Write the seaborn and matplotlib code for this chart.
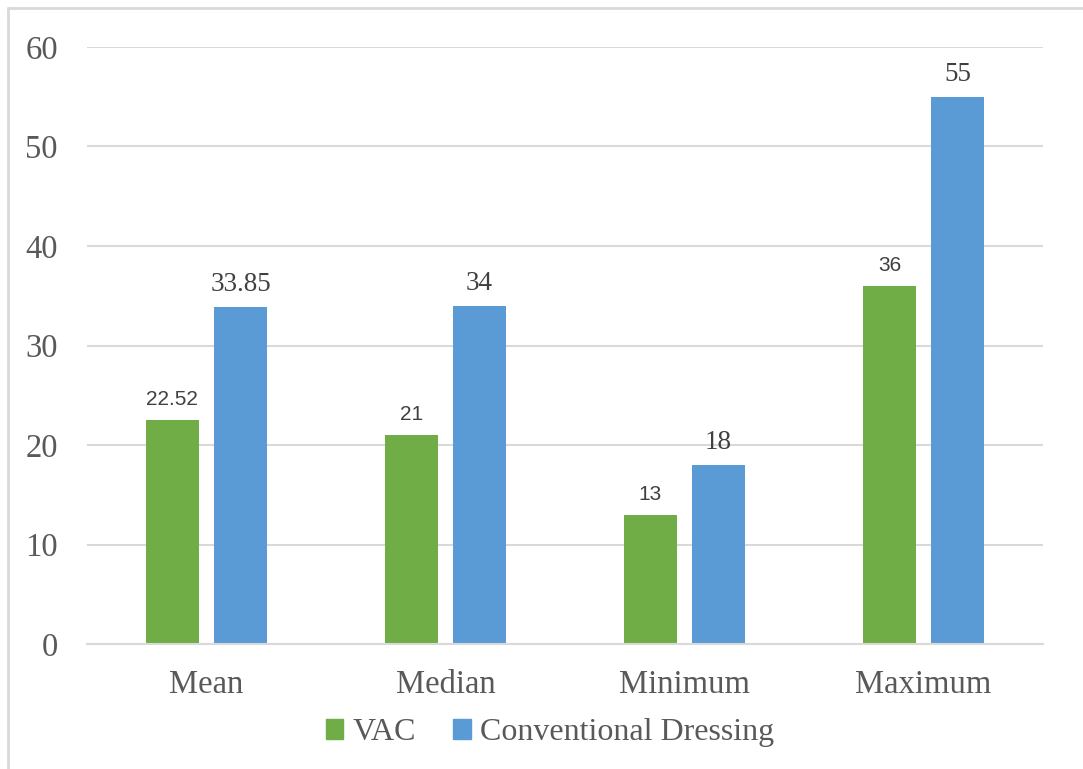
import matplotlib
matplotlib.use("Agg")
import matplotlib.pyplot as plt
import seaborn as sns
import pandas as pd
from matplotlib.patches import Rectangle
from matplotlib.lines import Line2D

categories = ["Mean", "Median", "Minimum", "Maximum"]
series_names = ["VAC", "Conventional Dressing"]
vac_values = [22.52, 21, 13, 36]
conv_values = [33.85, 34, 18, 55]
vac_labels = ["22.52", "21", "13", "36"]
conv_labels = ["33.85", "34", "18", "55"]
y_ticks = [0, 10, 20, 30, 40, 50, 60]

colors = {"VAC": "#70AD47", "Conventional Dressing": "#5B9BD5"}

df = pd.DataFrame({
    "Category": categories * 2,
    "Series": [series_names[0]] * 4 + [series_names[1]] * 4,
    "Value": vac_values + conv_values,
})

sns.set_theme(style="white")
plt.rcParams["font.family"] = ["Liberation Serif", "DejaVu Serif"]

fig = plt.figure(figsize=(10.83, 7.69), dpi=100)
ax = fig.add_axes([0.0803, 0.1625, 0.8827, 0.7764])

sns.barplot(data=df, x="Category", y="Value", hue="Series", order=categories,
            hue_order=series_names, palette=colors, width=0.57, gap=0.22,
            saturation=1, ax=ax, legend=False, edgecolor="none")

ax.set_xlim(-0.5, 3.5)
ax.set_ylim(0, 60)
ax.set_yticks(y_ticks)
ax.set_yticklabels([str(t) for t in y_ticks])
ax.yaxis.grid(True, color="#D9D9D9", linewidth=1.5)
ax.set_axisbelow(True)
for s in ["left", "right", "top"]:
    ax.spines[s].set_visible(False)
ax.spines["bottom"].set_color("#D9D9D9")
ax.spines["bottom"].set_linewidth(1.5)
ax.set_xlabel("")
ax.set_ylabel("")
ax.tick_params(axis="both", length=0, labelcolor="#595959", labelsize=23.5)
ax.tick_params(axis="x", pad=18)
ax.tick_params(axis="y", pad=21)

# data labels
containers = ax.containers
ax.bar_label(containers[0], labels=vac_labels, padding=8, fontsize=15,
             color="#404040", family=["Liberation Sans", "DejaVu Sans"])
ax.bar_label(containers[1], labels=conv_labels, padding=7, fontsize=19.5,
             color="#404040", family=["Liberation Serif", "DejaVu Serif"])

handles = [Rectangle((0, 0), 1, 1, color=colors[n]) for n in series_names]
fig.legend(handles, series_names, loc="center", bbox_to_anchor=(0.508, 0.047),
           ncol=2, frameon=False, fontsize=23, handlelength=0.55, handleheight=0.55,
           handletextpad=0.3, columnspacing=1.15, labelcolor="#595959")

# outer border (left and top visible)
fig.add_artist(Line2D([8 / 1083, 8 / 1083], [0, 1 - 8 / 769], transform=fig.transFigure,
                      color="#D9D9D9", linewidth=2))
fig.add_artist(Line2D([8 / 1083, 1], [1 - 8 / 769, 1 - 8 / 769], transform=fig.transFigure,
                      color="#D9D9D9", linewidth=2))

fig.savefig("out.png", dpi=100)
